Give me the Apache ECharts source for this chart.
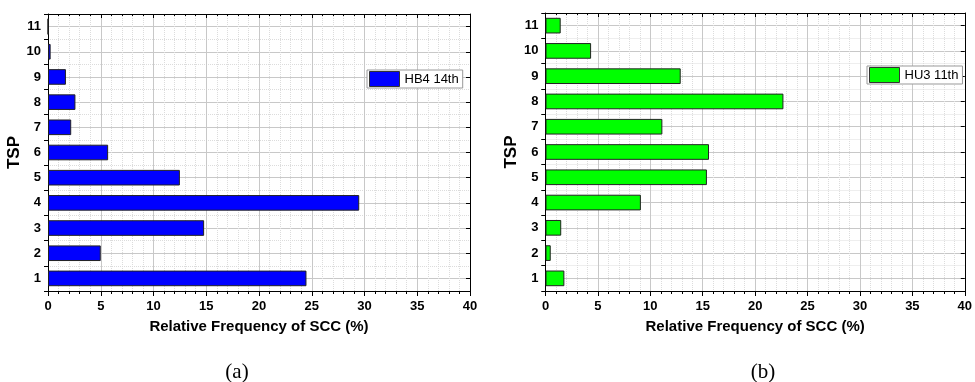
<!DOCTYPE html>
<html>
<head>
<meta charset="utf-8">
<script src="https://cdn.jsdelivr.net/npm/echarts@6/dist/echarts.min.js"></script>
<style>
html,body{margin:0;padding:0;background:#fff;}
#c{width:975px;height:382px;}
</style>
</head>
<body>
<div id="c"></div>
<script>
const categories = ['1','2','3','4','5','6','7','8','9','10','11'];
const hb4Values = [24.5, 5.0, 14.8, 29.5, 12.5, 5.7, 2.2, 2.6, 1.7, 0.25, 0];
const hu3Values = [1.8, 0.5, 1.5, 9.1, 15.4, 15.6, 11.15, 22.7, 12.9, 4.35, 1.45];
const seriesNames = ['HB4 14th', 'HU3 11th'];
const xTitle = 'Relative Frequency of SCC (%)';
const yTitle = 'TSP';
const captions = ['(a)', '(b)'];

const FONT = 'Liberation Sans';
const chart = echarts.init(document.getElementById('c'), null, {renderer: 'canvas'});

const grids = [
  {left: 48, top: 14, width: 422, height: 277},
  {left: 545.5, top: 13, width: 424, height: 278}
];

function xAxes(g) {
  return [
    {
      gridIndex: g, type: 'value', min: 0, max: 40, interval: 5, position: 'bottom',
      axisLine: {show: true, onZero: false, lineStyle: {color: '#000', width: 1}},
      axisTick: {show: true, length: 5, lineStyle: {color: '#000'}},
      minorTick: {show: true, splitNumber: 5, length: 3, lineStyle: {color: '#000'}},
      splitLine: {show: true, lineStyle: {color: '#c8c8c8', width: 1}},
      minorSplitLine: {show: true, lineStyle: {color: '#dcdcdc', type: 'dotted', width: 1}},
      axisLabel: {fontWeight: 'bold', fontSize: 13, color: '#000', margin: 9, fontFamily: FONT},
      name: xTitle, nameLocation: 'middle', nameGap: 28,
      nameTextStyle: {fontWeight: 'bold', fontSize: 15, color: '#000', fontFamily: FONT}
    },
    {
      gridIndex: g, type: 'value', min: 0, max: 40, interval: 5, position: 'top',
      axisLine: {show: true, onZero: false, lineStyle: {color: '#000', width: 1}},
      axisTick: {show: true, inside: true, length: 4, lineStyle: {color: '#000'}},
      minorTick: {show: true, splitNumber: 5, length: 2, lineStyle: {color: '#000'}},
      splitLine: {show: false},
      axisLabel: {show: false}
    }
  ];
}

function yAxes(g) {
  return [
    {
      gridIndex: g, type: 'category', data: categories, position: 'left',
      axisLine: {show: true, onZero: false, lineStyle: {color: '#000', width: 1}},
      axisTick: {show: true, length: 4, lineStyle: {color: '#000'}},
      splitLine: {show: true, lineStyle: {color: '#dcdcdc', type: 'dotted', width: 1}},
      axisLabel: {fontWeight: 'bold', fontSize: 13, color: '#000', margin: 7, fontFamily: FONT},
      name: yTitle, nameLocation: 'middle', nameGap: 25,
      nameTextStyle: {fontWeight: 'bold', fontSize: 17, color: '#000', fontFamily: FONT}
    },
    {
      gridIndex: g, type: 'category', data: categories, position: 'right',
      axisLine: {show: true, onZero: false, lineStyle: {color: '#000', width: 1}},
      axisTick: {show: true, inside: true, alignWithLabel: true, length: 4, lineStyle: {color: '#000'}},
      splitLine: {show: true, alignWithLabel: true, lineStyle: {color: '#c8c8c8', width: 1}},
      axisLabel: {show: false}
    },
    {
      gridIndex: g, type: 'category', data: categories, position: 'right',
      axisLine: {show: false},
      axisTick: {show: true, inside: true, length: 4, lineStyle: {color: '#000'}},
      splitLine: {show: false},
      axisLabel: {show: false}
    }
  ];
}

function legendFor(name, left, top) {
  return {
    data: [name], left: left, top: top, orient: 'horizontal',
    icon: 'rect', itemWidth: 30, itemHeight: 15, itemGap: 4,
    padding: [1, 4, 1, 2], borderColor: '#999', borderWidth: 1, backgroundColor: '#fff',
    itemStyle: {borderWidth: 1, borderColor: '#333'},
    textStyle: {fontSize: 13, color: '#000', fontFamily: FONT}
  };
}

const option = {
  animation: false,
  backgroundColor: '#fff',
  textStyle: {fontFamily: FONT},
  grid: grids,
  xAxis: [].concat(xAxes(0), xAxes(1)),
  yAxis: [].concat(yAxes(0), yAxes(1)),
  legend: [legendFor(seriesNames[0], 367, 70), legendFor(seriesNames[1], 867, 66)],
  series: [
    {
      name: seriesNames[0], type: 'bar', xAxisIndex: 0, yAxisIndex: 0,
      data: hb4Values, barWidth: '62%', z: 5,
      itemStyle: {color: '#0000ff', borderColor: '#222', borderWidth: 1}
    },
    {
      name: seriesNames[1], type: 'bar', xAxisIndex: 2, yAxisIndex: 3,
      data: hu3Values, barWidth: '62%', z: 5,
      itemStyle: {color: '#00ff00', borderColor: '#222', borderWidth: 1}
    }
  ],
  graphic: [
    {type: 'text', x: 237, y: 372, style: {text: captions[0], font: '21px "Liberation Serif"', fill: '#000', align: 'center', verticalAlign: 'middle'}},
    {type: 'text', x: 763, y: 372, style: {text: captions[1], font: '21px "Liberation Serif"', fill: '#000', align: 'center', verticalAlign: 'middle'}}
  ]
};
chart.setOption(option);
</script>
</body>
</html>
